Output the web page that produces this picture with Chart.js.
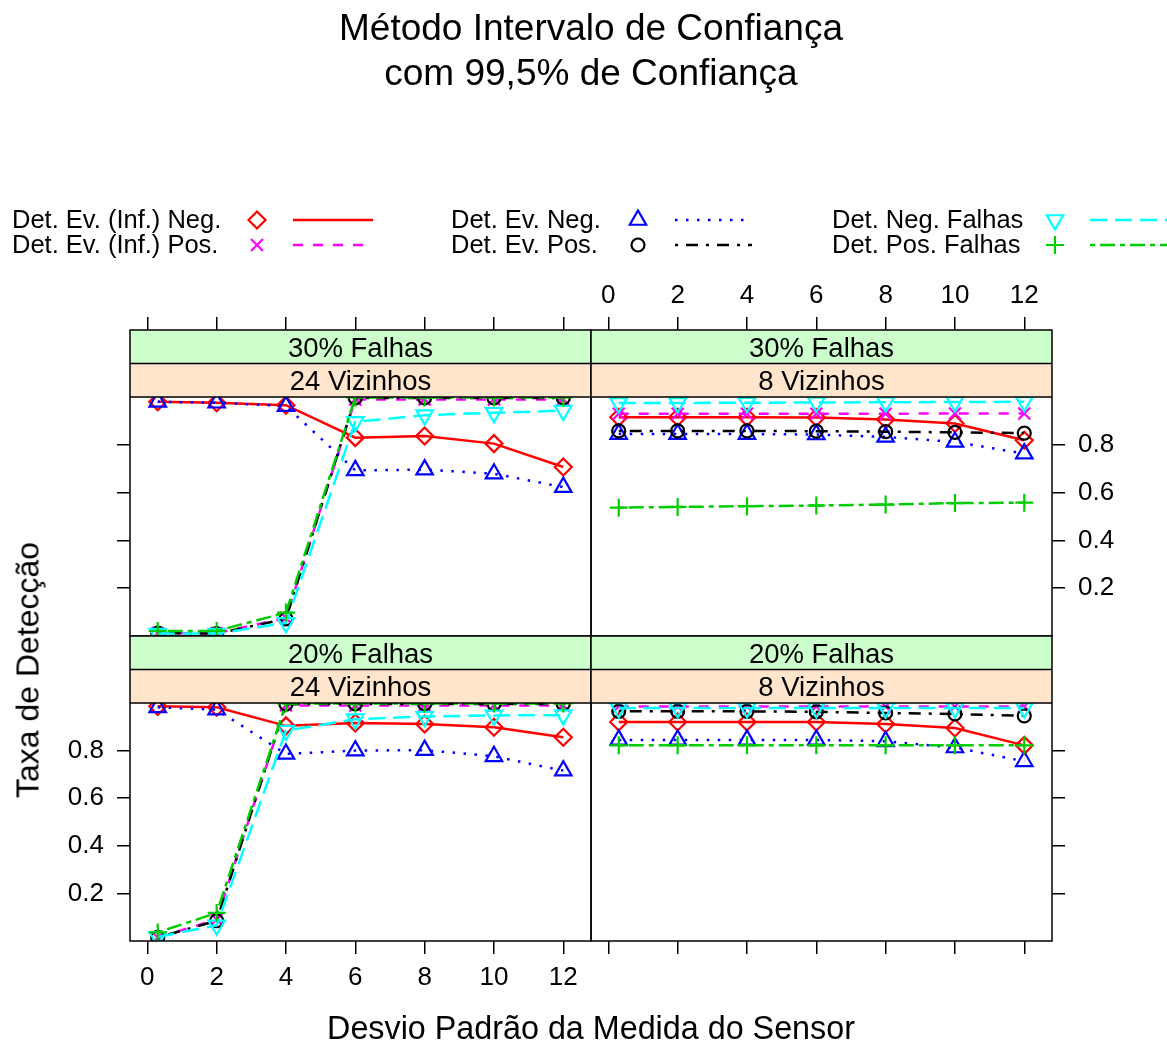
<!DOCTYPE html>
<html>
<head>
<meta charset="utf-8">
<script src="https://cdn.jsdelivr.net/npm/chart.js@4.4.1/dist/chart.umd.min.js"></script>
<style>
  body { margin: 0; background: #fff; font-family: "Liberation Sans", Arial, sans-serif; }
  #wrap { position: relative; width: 1167px; height: 1043px; overflow: hidden; }
  #wrap canvas { position: absolute; left: 0; top: 0; }
  .txt { position: absolute; white-space: nowrap; color: #000; }
  .title { left: 0; width: 1182px; text-align: center; font-size: 37px; line-height: 45px; top: 5px; }
  .leg { font-size: 25.5px; line-height: 25px; top: 207px; }
  .xlab { left: 0; width: 1182px; text-align: center; font-size: 32.3px; line-height: 40px; top: 1008px; }
  .ylab { left: 28px; top: 670px; font-size: 32px; transform: translate(-50%, -50%) rotate(-90deg); }
</style>
</head>
<body>
<div id="wrap">
  <canvas id="p1" width="1167" height="1043"></canvas>
  <canvas id="p2" width="1167" height="1043"></canvas>
  <canvas id="p3" width="1167" height="1043"></canvas>
  <canvas id="p4" width="1167" height="1043"></canvas>
  <div class="txt title">Método Intervalo de Confiança<br>com 99,5% de Confiança</div>
  <div class="txt leg" style="left:12px">Det. Ev. (Inf.) Neg.<br>Det. Ev. (Inf.) Pos.</div>
  <div class="txt leg" style="left:451px">Det. Ev. Neg.<br>Det. Ev. Pos.</div>
  <div class="txt leg" style="left:832px">Det. Neg. Falhas<br>Det. Pos. Falhas</div>
  <div class="txt xlab">Desvio Padrão da Medida do Sensor</div>
  <div class="txt ylab">Taxa de Detecção</div>
</div>
<script>
// desvio padrão simulado (eixo x) e marcas dos eixos
const X_VALUES = [0.3, 2, 4, 6, 8, 10, 12];
const X_TICKS = [0, 2, 4, 6, 8, 10, 12];
const Y_TICKS = [0.2, 0.4, 0.6, 0.8];

const SERIES_NAMES = ['Det. Ev. (Inf.) Neg.', 'Det. Ev. (Inf.) Pos.', 'Det. Ev. Neg.',
                      'Det. Ev. Pos.', 'Det. Neg. Falhas', 'Det. Pos. Falhas'];
const SERIES_COLORS = ['#ff0000', '#ff00ff', '#0000ff', '#000000', '#00ffff', '#00cd00'];

// 30% Falhas, 24 Vizinhos
const infNeg_f30_v24 = [0.980, 0.976, 0.966, 0.830, 0.837, 0.805, 0.707];
const infPos_f30_v24 = [0.012, 0.012, 0.075, 0.990, 0.990, 0.990, 0.990];
const evNeg_f30_v24  = [0.980, 0.976, 0.962, 0.693, 0.696, 0.679, 0.623];
const evPos_f30_v24  = [0.012, 0.010, 0.072, 0.996, 0.996, 0.996, 0.996];
const negF_f30_v24   = [0.010, 0.010, 0.055, 0.896, 0.924, 0.934, 0.943];
const posF_f30_v24   = [0.021, 0.021, 0.098, 0.998, 0.998, 0.998, 0.998];

// 30% Falhas, 8 Vizinhos
const infNeg_f30_v8 = [0.915, 0.915, 0.915, 0.914, 0.906, 0.889, 0.819];
const infPos_f30_v8 = [0.930, 0.930, 0.930, 0.930, 0.930, 0.931, 0.931];
const evNeg_f30_v8  = [0.845, 0.845, 0.845, 0.843, 0.833, 0.812, 0.763];
const evPos_f30_v8  = [0.858, 0.858, 0.858, 0.857, 0.855, 0.852, 0.849];
const negF_f30_v8   = [0.975, 0.975, 0.976, 0.977, 0.978, 0.979, 0.980];
const posF_f30_v8   = [0.537, 0.540, 0.543, 0.546, 0.550, 0.556, 0.558];

// 20% Falhas, 24 Vizinhos
const infNeg_f20_v24 = [0.986, 0.982, 0.904, 0.916, 0.912, 0.898, 0.856];
const infPos_f20_v24 = [0.015, 0.090, 0.990, 0.990, 0.990, 0.990, 0.990];
const evNeg_f20_v24  = [0.982, 0.972, 0.786, 0.800, 0.802, 0.776, 0.716];
const evPos_f20_v24  = [0.015, 0.085, 0.995, 0.996, 0.996, 0.996, 0.996];
const negF_f20_v24   = [0.017, 0.066, 0.884, 0.932, 0.943, 0.948, 0.949];
const posF_f20_v24   = [0.036, 0.118, 0.998, 0.998, 0.998, 0.998, 0.998];

// 20% Falhas, 8 Vizinhos
const infNeg_f20_v8 = [0.920, 0.920, 0.920, 0.920, 0.912, 0.895, 0.822];
const infPos_f20_v8 = [0.985, 0.985, 0.985, 0.985, 0.985, 0.985, 0.985];
const evNeg_f20_v8  = [0.845, 0.845, 0.845, 0.845, 0.839, 0.813, 0.755];
const evPos_f20_v8  = [0.965, 0.965, 0.965, 0.963, 0.958, 0.954, 0.946];
const negF_f20_v8   = [0.979, 0.979, 0.979, 0.979, 0.979, 0.979, 0.979];
const posF_f20_v8   = [0.822, 0.822, 0.822, 0.822, 0.822, 0.822, 0.822];

// símbolo e tipo de linha de cada série (mesma ordem de SERIES_NAMES)
const STYLES = [
  { pointStyle: 'rectRot',  rotation: 0,   radius: 8.5, dash: [] },
  { pointStyle: 'crossRot', rotation: 0,   radius: 8.5, dash: [10, 10] },
  { pointStyle: 'triangle', rotation: 0,   radius: 9.5, dash: [2.5, 8.5] },
  { pointStyle: 'circle',   rotation: 0,   radius: 6.5, dash: [3, 8, 12, 8] },
  { pointStyle: 'triangle', rotation: 180, radius: 9.5, dash: [17, 8] },
  { pointStyle: 'cross',    rotation: 0,   radius: 9,   dash: [5, 5, 15, 5] }
];

const W = 1167, H = 1043;
const AX_W = 90, AX_H = 60, STRIP_H = 67, TICK_LEN = 13;
const X_MIN = -0.5, X_MAX = 12.8;
const FONT = '"Liberation Sans", Arial, sans-serif';

Chart.defaults.font.family = FONT;
Chart.defaults.font.size = 26;
Chart.defaults.color = '#000';

// painéis: [esq, topo, dir, base] incluindo as duas faixas de título
const PANELS = [
  { id: 'p1', rect: [130, 330, 591, 636], falhas: '30% Falhas', viz: '24 Vizinhos',
    series: [infNeg_f30_v24, infPos_f30_v24, evNeg_f30_v24, evPos_f30_v24, negF_f30_v24, posF_f30_v24],
    axes: { top: 'ticks', left: 'ticks' }, legend: true },
  { id: 'p2', rect: [591, 330, 1052, 636], falhas: '30% Falhas', viz: '8 Vizinhos',
    series: [infNeg_f30_v8, infPos_f30_v8, evNeg_f30_v8, evPos_f30_v8, negF_f30_v8, posF_f30_v8],
    axes: { top: 'labels', right: 'labels' } },
  { id: 'p3', rect: [130, 636, 591, 941], falhas: '20% Falhas', viz: '24 Vizinhos',
    series: [infNeg_f20_v24, infPos_f20_v24, evNeg_f20_v24, evPos_f20_v24, negF_f20_v24, posF_f20_v24],
    axes: { bottom: 'labels', left: 'labels' } },
  { id: 'p4', rect: [591, 636, 1052, 941], falhas: '20% Falhas', viz: '8 Vizinhos',
    series: [infNeg_f20_v8, infPos_f20_v8, evNeg_f20_v8, evPos_f20_v8, negF_f20_v8, posF_f20_v8],
    axes: { bottom: 'ticks', right: 'ticks' } }
];

// faixas verde/bege no topo de cada painel + moldura
const stripPlugin = {
  id: 'strips',
  afterDatasetsDraw(chart, args, opts) {
    const { ctx, chartArea: a } = chart;
    const y1 = chart.scales.y.getPixelForValue(1);
    const mid = (a.top + y1) / 2;
    ctx.save();
    ctx.fillStyle = '#ccffcc';
    ctx.fillRect(a.left, a.top, a.width, mid - a.top);
    ctx.fillStyle = '#ffe5cc';
    ctx.fillRect(a.left, mid, a.width, y1 - mid);
    ctx.strokeStyle = '#000';
    ctx.lineWidth = 1.5;
    ctx.beginPath();
    ctx.moveTo(a.left, mid); ctx.lineTo(a.right, mid);
    ctx.moveTo(a.left, y1); ctx.lineTo(a.right, y1);
    ctx.stroke();
    ctx.strokeRect(a.left, a.top, a.width, a.height);
    ctx.fillStyle = '#000';
    ctx.font = '27.5px ' + FONT;
    ctx.textAlign = 'center';
    ctx.textBaseline = 'middle';
    const cx = (a.left + a.right) / 2;
    ctx.fillText(opts.top, cx, (a.top + mid) / 2 + 2.5);
    ctx.fillText(opts.bottom, cx, (mid + y1) / 2 + 2.5);
    ctx.restore();
  }
};

// amostras de símbolo e linha da legenda (texto fica no HTML)
const LEG_MARK_X = [257, 638, 1055];
const LEG_LINE_X = [[293, 373], [675, 752], [1090, 1170]];
const LEG_ROW_Y = [220, 245];
const legendPlugin = {
  id: 'legendSamples',
  afterDraw(chart) {
    const ctx = chart.ctx;
    SERIES_NAMES.forEach((name, i) => {
      const col = Math.floor(i / 2), row = i % 2;
      const y = LEG_ROW_Y[row];
      const st = STYLES[i];
      ctx.save();
      ctx.strokeStyle = SERIES_COLORS[i];
      ctx.fillStyle = 'rgba(0,0,0,0)';
      ctx.lineWidth = 2.5;
      ctx.setLineDash(st.dash);
      ctx.beginPath();
      ctx.moveTo(LEG_LINE_X[col][0], y);
      ctx.lineTo(LEG_LINE_X[col][1], y);
      ctx.stroke();
      ctx.setLineDash([]);
      ctx.lineWidth = 2.2;
      Chart.helpers.drawPoint(ctx, {
        pointStyle: st.pointStyle, rotation: st.rotation, radius: st.radius, borderWidth: 2.2
      }, LEG_MARK_X[col], y);
      ctx.restore();
    });
  }
};

function axis(kind, pos, min, max, ticks, fmt, pad) {
  const horiz = pos === 'top' || pos === 'bottom';
  const opt = {
    type: 'linear', position: pos, display: !!kind, min: min, max: max,
    afterBuildTicks: s => { s.ticks = ticks.map(v => ({ value: v })); },
    grid: { display: true, drawOnChartArea: false, drawTicks: true, tickLength: TICK_LEN,
            color: '#000', lineWidth: 1.5 },
    border: { display: false },
    ticks: { display: kind === 'labels', autoSkip: false, maxRotation: 0, padding: pad,
             callback: v => fmt(v) }
  };
  if (kind) {
    opt.afterFit = s => { if (horiz) s.height = AX_H; else s.width = AX_W; };
  }
  return opt;
}

PANELS.forEach(p => {
  const [l, t, r, b] = p.rect;
  const ax = p.axes;
  const yMax = 1 + STRIP_H / (b - t - STRIP_H);
  const fx = v => String(v);
  const fy = v => v.toFixed(1);

  const datasets = p.series.map((vals, i) => ({
    label: SERIES_NAMES[i],
    data: X_VALUES.map((x, k) => ({ x: x, y: vals[k] })),
    borderColor: SERIES_COLORS[i],
    borderWidth: 2.5,
    borderDash: STYLES[i].dash,
    pointStyle: STYLES[i].pointStyle,
    pointRotation: STYLES[i].rotation,
    pointRadius: STYLES[i].radius,
    pointBorderWidth: 2.2,
    pointBorderColor: SERIES_COLORS[i],
    pointBackgroundColor: 'rgba(0,0,0,0)',
    tension: 0,
    fill: false,
    clip: 0,
    order: SERIES_NAMES.length - i
  }));

  const plugins = [stripPlugin];
  if (p.legend) plugins.push(legendPlugin);

  new Chart(document.getElementById(p.id), {
    type: 'line',
    data: { datasets: datasets },
    plugins: plugins,
    options: {
      responsive: false,
      animation: false,
      devicePixelRatio: 1,
      events: [],
      layout: {
        padding: {
          left: l - (ax.left ? AX_W : 0),
          right: W - r - (ax.right ? AX_W : 0),
          top: t - (ax.top ? AX_H : 0),
          bottom: H - b - (ax.bottom ? AX_H : 0)
        }
      },
      plugins: {
        legend: { display: false },
        title: { display: false },
        tooltip: { enabled: false },
        strips: { top: p.falhas, bottom: p.viz }
      },
      scales: {
        x: axis(ax.bottom, 'bottom', X_MIN, X_MAX, X_TICKS, fx, 8),
        xTop: axis(ax.top, 'top', X_MIN, X_MAX, X_TICKS, fx, 6),
        y: axis(ax.left, 'left', 0, yMax, Y_TICKS, fy, 13),
        yRight: axis(ax.right, 'right', 0, yMax, Y_TICKS, fy, 13)
      }
    }
  });
});
</script>
</body>
</html>
